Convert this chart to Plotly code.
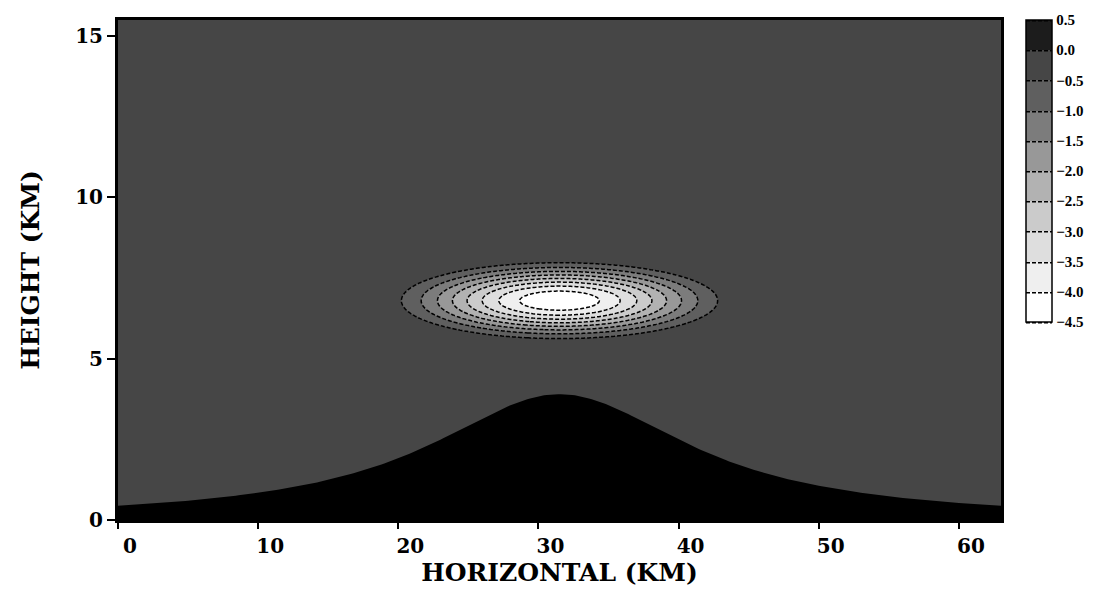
import numpy as np
import plotly.graph_objects as go

# ---- values ----
x_ticks = [0, 10, 20, 30, 40, 50, 60]
y_ticks = [0, 5, 10, 15]
x_range = [0, 63]
y_range = [0, 15.5]

levels = [0.5, 0.0, -0.5, -1.0, -1.5, -2.0, -2.5, -3.0, -3.5, -4.0, -4.5]
# fill colour for each band, from the lowest band (-4.5..-4.0) to the highest (0.0..0.5)
band_colors = ["#ffffff", "#efefef", "#dedede", "#cbcbcb", "#b2b2b2",
               "#989898", "#7c7c7c", "#5f5f5f", "#464646", "#1c1c1c"]

# cold anomaly bubble (km, amplitude)
bubble_center_x = 31.5
bubble_center_z = 6.8
bubble_radius_x = 14.4
bubble_radius_z = 1.5
bubble_amplitude = -4.4
ambient_value = -0.01

# bell-shaped mountain (km)
mountain_center = 31.5
mountain_height = 3.9
mountain_halfwidth = 11.3

# ---- field on a grid ----
xs = np.linspace(x_range[0], x_range[1], 316)
zs = np.linspace(y_range[0], y_range[1], 311)
X, Z = np.meshgrid(xs, zs)
R = np.sqrt(((X - bubble_center_x) / bubble_radius_x) ** 2 + ((Z - bubble_center_z) / bubble_radius_z) ** 2)
field = np.where(R < 1, bubble_amplitude * np.cos(np.pi * R / 2) ** 2, 0.0) + ambient_value

terrain = mountain_height / (1 + ((xs - mountain_center) / mountain_halfwidth) ** 2)

# stepped colourscale
zmin, zmax = min(levels), max(levels)
nb = len(band_colors)
colorscale = []
for i, c in enumerate(band_colors):
    colorscale.append([i / nb, c])
    colorscale.append([(i + 1) / nb, c])

font_family = "DejaVu Serif"

fig = go.Figure()
fig.add_trace(go.Contour(
    x=xs, y=zs, z=field,
    zmin=zmin, zmax=zmax, zauto=False,
    autocontour=False,
    contours=dict(start=zmin, end=zmax, size=0.5, coloring="fill", showlines=True),
    colorscale=colorscale,
    line=dict(color="black", width=1.5, dash="4px,2px"),
    hoverinfo="skip",
    colorbar=dict(
        x=1.028, xanchor="left", xpad=0,
        y=1.0, yanchor="top", ypad=0,
        lenmode="pixels", len=302,
        thicknessmode="pixels", thickness=26,
        outlinecolor="black", outlinewidth=1.5,
        tickvals=levels, tickformat=".1f", ticks="",
        tickfont=dict(family="Liberation Serif", size=15, color="black", weight="bold"),
    ),
))
fig.add_trace(go.Scatter(
    x=xs, y=terrain, mode="lines", fill="tozeroy",
    fillcolor="black", line=dict(color="black", width=0),
    hoverinfo="skip", showlegend=False,
))

axis_font = dict(family=font_family, size=20, color="black", weight="bold")
title_font = dict(family=font_family, size=25, color="black", weight="bold")

fig.update_layout(
    width=1109, height=593, autosize=False,
    margin=dict(l=110, r=116, t=9, b=81),
    paper_bgcolor="white", plot_bgcolor="white",
    showlegend=False,
    xaxis=dict(
        range=x_range, tickvals=x_ticks, ticks="outside", ticklen=6, tickwidth=1.5,
        tickcolor="black", showline=True, linewidth=3, linecolor="black", mirror=True,
        showgrid=False, zeroline=False, tickfont=axis_font, ticklabelshift=12,
        title=dict(text="HORIZONTAL (KM)", font=title_font, standoff=5),
    ),
    yaxis=dict(
        range=y_range, tickvals=y_ticks, ticks="outside", ticklen=8, tickwidth=1.5,
        tickcolor="black", showline=True, linewidth=3, linecolor="black", mirror=True,
        showgrid=False, zeroline=False, tickfont=axis_font,
        title=dict(text="HEIGHT (KM)", font=title_font, standoff=29),
    ),
)

fig.write_html("out.html")
